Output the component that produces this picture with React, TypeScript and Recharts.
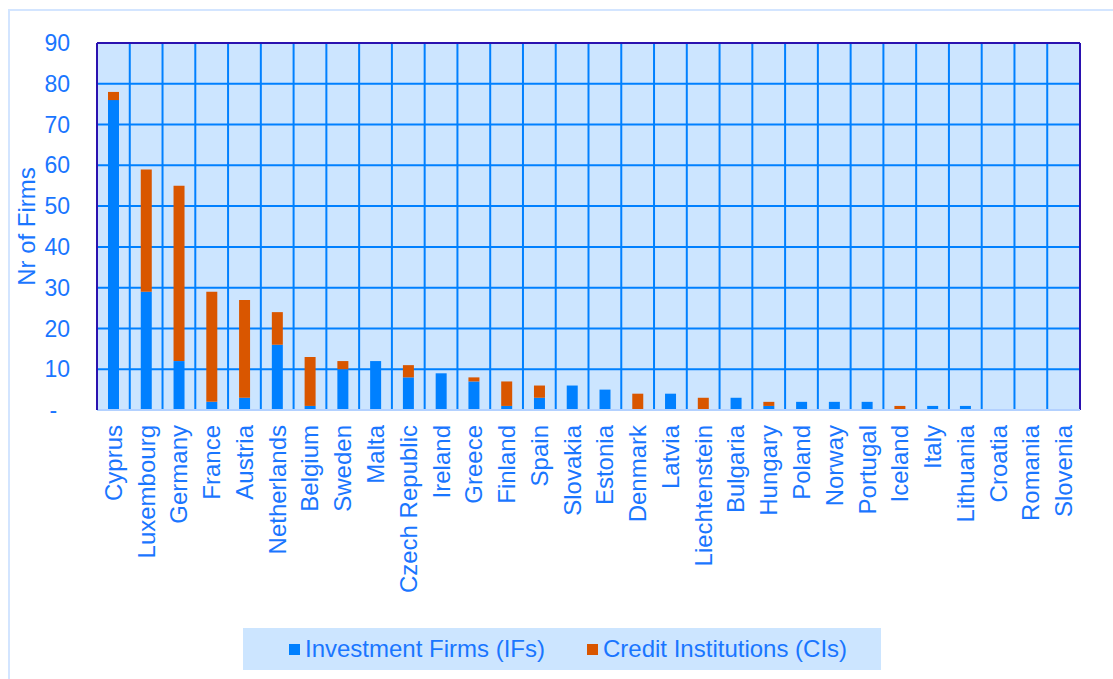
import {
  BarChart,
  Bar,
  XAxis,
  YAxis,
  CartesianGrid,
  Legend,
  ReferenceLine,
} from 'recharts';

// Values
const countries = [
  'Cyprus', 'Luxembourg', 'Germany', 'France', 'Austria', 'Netherlands',
  'Belgium', 'Sweden', 'Malta', 'Czech Republic', 'Ireland', 'Greece',
  'Finland', 'Spain', 'Slovakia', 'Estonia', 'Denmark', 'Latvia',
  'Liechtenstein', 'Bulgaria', 'Hungary', 'Poland', 'Norway', 'Portugal',
  'Iceland', 'Italy', 'Lithuania', 'Croatia', 'Romania', 'Slovenia',
];
const investmentFirms = [
  76, 29, 12, 2, 3, 16, 1, 10, 12, 8, 9, 7, 1, 3, 6, 5, 0, 4, 0, 3, 1, 2, 2, 2, 0, 1, 1, 0, 0, 0,
];
const creditInstitutions = [
  2, 30, 43, 27, 24, 8, 12, 2, 0, 3, 0, 1, 6, 3, 0, 0, 4, 0, 3, 0, 1, 0, 0, 0, 1, 0, 0, 0, 0, 0,
];
const seriesNames = ['Investment Firms (IFs)', 'Credit Institutions (CIs)'];
const yTicks = [0, 10, 20, 30, 40, 50, 60, 70, 80, 90];

const data = countries.map((country, i) => ({
  country,
  ifs: investmentFirms[i],
  cis: creditInstitutions[i],
}));

const FONT = '"Liberation Sans", Arial, sans-serif';
const TEXT = '#1a76ff';
const BLUE = '#0080ff';
const ORANGE = '#d95600';
const FRAME = '#2a12b0';
const PLOT_BG = '#cce5ff';

const CountryTick = ({ x, y, payload }: any) => (
  <g transform={`translate(${x},${y + 15})`}>
    <text
      transform="rotate(-90)"
      textAnchor="end"
      dominantBaseline="central"
      fill={TEXT}
      fontSize={24}
      fontFamily={FONT}
    >
      {payload.value}
    </text>
  </g>
);

const LegendBox = ({ payload }: any) => {
  // keep the series order, not the alphabetical one
  const items = [...(payload || [])].sort(
    (a: any, b: any) => seriesNames.indexOf(a.value) - seriesNames.indexOf(b.value)
  );
  return (
    <div
      style={{
        width: 638,
        height: 42,
        background: PLOT_BG,
        display: 'flex',
        alignItems: 'center',
        fontFamily: FONT,
        fontSize: 24,
        color: TEXT,
        whiteSpace: 'nowrap',
      }}
    >
      {items.map((entry: any, i: number) => (
        <div
          key={`item-${i}`}
          style={{ display: 'flex', alignItems: 'center', marginLeft: i === 0 ? 46 : 42 }}
        >
          <span style={{ width: 11, height: 11, background: entry.color, marginRight: 5 }} />
          <span>{entry.value}</span>
        </div>
      ))}
    </div>
  );
};

export default function App() {
  return (
    <div
      style={{
        position: 'absolute',
        left: 8,
        top: 9,
        width: 1110,
        height: 675,
        border: '2px solid #d3e5ff',
        boxSizing: 'border-box',
        background: '#fff',
      }}
    >
      <BarChart
        width={1100}
        height={664}
        data={data}
        margin={{ top: 32, right: 30, left: 0, bottom: 0 }}
      >
        <CartesianGrid
          fill={PLOT_BG}
          fillOpacity={1}
          stroke={BLUE}
          strokeWidth={2}
          verticalCoordinatesGenerator={({ offset }: any) =>
            countries.map((_, i) => offset.left + (i * offset.width) / countries.length)
          }
        />
        <XAxis
          dataKey="country"
          interval={0}
          height={223}
          tickSize={0}
          tickMargin={0}
          tick={<CountryTick />}
          axisLine={{ stroke: '#b3d1ff', strokeWidth: 2 }}
        />
        <YAxis
          width={87}
          domain={[0, 90]}
          ticks={yTicks}
          tickSize={0}
          tickMargin={27}
          tickLine={false}
          axisLine={{ stroke: FRAME, strokeWidth: 2 }}
          tick={{ fill: TEXT, fontSize: 23, fontFamily: FONT }}
          tickFormatter={(v: number) => (v === 0 ? '-\u00a0\u00a0' : String(v))}
          label={{
            content: ({ viewBox }: any) => (
              <text
                x={viewBox.x + 25}
                y={viewBox.y + viewBox.height / 2}
                transform={`rotate(-90, ${viewBox.x + 25}, ${viewBox.y + viewBox.height / 2})`}
                textAnchor="middle"
                fill={TEXT}
                fontSize={24}
                fontFamily={FONT}
              >
                Nr of Firms
              </text>
            ),
          }}
        />
        <ReferenceLine y={90} stroke={FRAME} strokeWidth={2} />
        <ReferenceLine
          x={countries[countries.length - 1]}
          position="end"
          stroke={FRAME}
          strokeWidth={2}
        />
        <Legend
          verticalAlign="bottom"
          content={<LegendBox />}
          wrapperStyle={{ left: 233, bottom: 5, width: 638, height: 42 }}
        />
        <Bar
          dataKey="ifs"
          name={seriesNames[0]}
          stackId="a"
          fill={BLUE}
          barSize={11}
          isAnimationActive={false}
        />
        <Bar
          dataKey="cis"
          name={seriesNames[1]}
          stackId="a"
          fill={ORANGE}
          barSize={11}
          isAnimationActive={false}
        />
      </BarChart>
    </div>
  );
}
